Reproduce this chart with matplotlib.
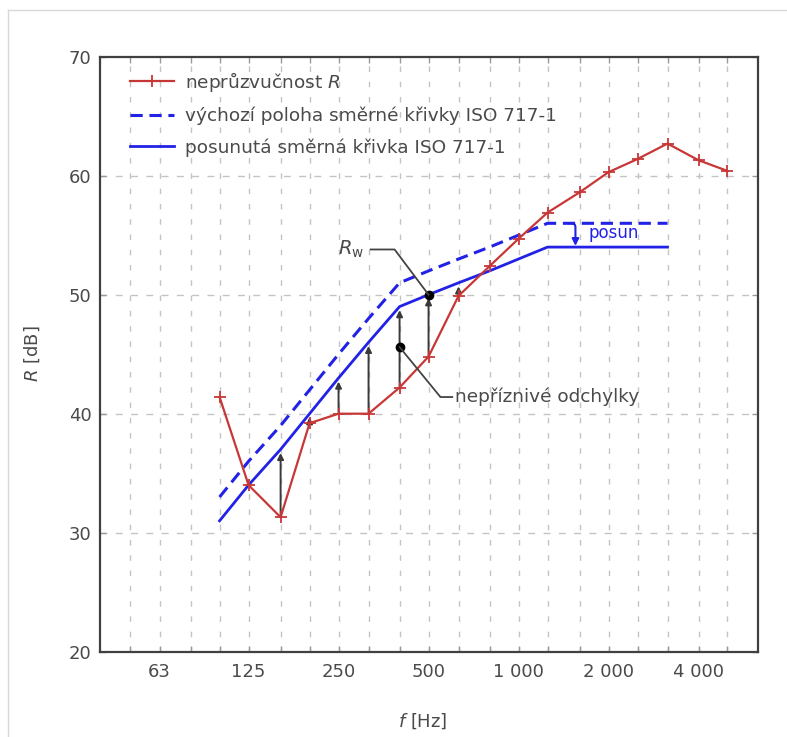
import numpy as np
import matplotlib
matplotlib.use('Agg')
import matplotlib.pyplot as plt
from matplotlib.lines import Line2D

# Third-octave band centres used for the grid
GRID_FREQS = [50, 63, 80, 100, 125, 160, 200, 250, 315, 400, 500, 630,
              800, 1000, 1250, 1600, 2000, 2500, 3150, 4000, 5000]
LABELLED = {63: '63', 125: '125', 250: '250', 500: '500',
            1000: '1 000', 2000: '2 000', 4000: '4 000'}

# Measured sound reduction index R
R_FREQS = [100, 125, 160, 200, 250, 315, 400, 500, 630, 800, 1000, 1250,
           1600, 2000, 2500, 3150, 4000, 5000]
R_VALUES = [41.4, 34.0, 31.3, 39.2, 40.0, 40.0, 42.2, 44.8, 49.9, 52.4,
            54.7, 56.9, 58.6, 60.3, 61.4, 62.7, 61.3, 60.4]

# ISO 717-1 reference curve, initial position, and the shift applied
REF_FREQS = [100, 125, 160, 200, 250, 315, 400, 500, 630, 800, 1000, 1250,
             1600, 2000, 2500, 3150]
REF_INITIAL = [33, 36, 39, 42, 45, 48, 51, 52, 53, 54, 55, 56, 56, 56, 56, 56]
SHIFT = 2

RED = '#c83737'
BLUE = '#2222e6'
TEXT = '#4a4a4a'

plt.rcParams['font.family'] = ['DejaVu Sans']
plt.rcParams['mathtext.fontset'] = 'custom'
plt.rcParams['mathtext.it'] = 'DejaVu Sans:italic'
plt.rcParams['mathtext.rm'] = 'DejaVu Sans'

ref_shifted = np.array(REF_INITIAL) - SHIFT
r_on_ref = np.array(R_VALUES[:len(REF_FREQS)])

fig = plt.figure(figsize=(7.87, 7.37), dpi=100)
ax = fig.add_axes([100 / 787, 1 - 651.7 / 737, 657.7 / 787, 595 / 737])

# light frame around the whole picture
fig.add_artist(Line2D([8 / 787, 8 / 787], [0, 1 - 10 / 737],
                      color='#d8d8d8', lw=1, transform=fig.transFigure))
fig.add_artist(Line2D([8 / 787, 1], [1 - 10 / 737, 1 - 10 / 737],
                      color='#d8d8d8', lw=1, transform=fig.transFigure))

ax.set_xscale('log')
ax.set_xlim(10 ** 1.6, 10 ** 3.8)
ax.set_ylim(20, 70)

# grid
for f in GRID_FREQS:
    ax.axvline(f, color='#c4c4c4', lw=1, ls=(0, (4, 7)), zorder=0)
for y in [30, 40, 50, 60]:
    ax.axhline(y, color='#c4c4c4', lw=1, ls=(0, (5, 6)), zorder=0)

# unfavourable deviations
for f, r, ref in zip(REF_FREQS, r_on_ref, ref_shifted):
    if ref - r > 0.5:
        ax.annotate('', xy=(f, ref - 0.3), xytext=(f, r),
                    arrowprops=dict(arrowstyle='-|>', color='#3a3a3a',
                                    lw=1.4, mutation_scale=9,
                                    shrinkA=0, shrinkB=0), zorder=2)

ax.plot(REF_FREQS, REF_INITIAL, color=BLUE, lw=2.2, ls=(0, (4, 2.2)),
        label='výchozí poloha směrné křivky ISO 717-1', zorder=3)
ax.plot(REF_FREQS, ref_shifted, color=BLUE, lw=2,
        label='posunutá směrná křivka ISO 717-1', zorder=3)
ax.plot(R_FREQS, R_VALUES, color=RED, lw=1.6, marker='+', ms=8, mew=1.3,
        label='neprůzvučnost $R$', zorder=4)

# Rw marker and label
rw_f = 500
rw = ref_shifted[REF_FREQS.index(rw_f)]
ax.plot([rw_f], [rw], 'o', color='black', ms=6, zorder=5)
ax.plot([320, 385, rw_f], [53.8, 53.8, rw], color='#444444', lw=1.3,
        zorder=5)
ax.text(305, 53.8, r'$R_\mathrm{w}$', ha='right', va='center',
        fontsize=14, color=TEXT)

# label for the deviations
dev_f, dev_y = 400, 45.6
ax.plot([dev_f], [dev_y], 'o', color='black', ms=6, zorder=5)
ax.plot([dev_f, 548, 600], [dev_y, 41.4, 41.4], color='#444444', lw=1.3,
        zorder=5)
ax.text(612, 41.4, 'nepříznivé odchylky', ha='left', va='center',
        fontsize=13.3, color=TEXT)

# shift of the reference curve
ax.annotate('', xy=(1550, 54.1), xytext=(1470, 56),
            arrowprops=dict(arrowstyle='-|>', color=BLUE, lw=1.5,
                            mutation_scale=10, shrinkA=0, shrinkB=0,
                            connectionstyle='angle,angleA=0,angleB=90,rad=4'),
            zorder=5)
ax.text(1720, 55.2, 'posun', ha='left', va='center', fontsize=12,
        color=BLUE)

# axes styling
ax.set_xticks(GRID_FREQS)
ax.set_xticklabels([LABELLED.get(f, '') for f in GRID_FREQS])
ax.xaxis.set_minor_locator(matplotlib.ticker.NullLocator())
ax.set_yticks([20, 30, 40, 50, 60, 70])
ax.tick_params(axis='both', direction='in', length=4, width=1,
               colors='#999999', labelcolor=TEXT, labelsize=13,
               top=True, right=True)
ax.tick_params(axis='x', pad=8)
ax.tick_params(axis='y', pad=6)
for s in ax.spines.values():
    s.set_color('#404040')
    s.set_linewidth(1.6)

ax.set_xlabel('$f$ [Hz]', fontsize=13, color=TEXT)
ax.xaxis.set_label_coords(0.49, -0.10)
ax.set_ylabel('$R$ [dB]', fontsize=13, color=TEXT)
ax.yaxis.set_label_coords(-0.088, 0.5)

handles, labels = ax.get_legend_handles_labels()
order = [2, 0, 1]
ax.legend([handles[i] for i in order], [labels[i] for i in order],
          loc='upper left', bbox_to_anchor=(0.045, 0.978), frameon=False,
          borderpad=0, borderaxespad=0, handlelength=2.4,
          handletextpad=0.6, labelspacing=0.7, fontsize=13.3,
          labelcolor=TEXT)

fig.savefig('out.png', dpi=100)
